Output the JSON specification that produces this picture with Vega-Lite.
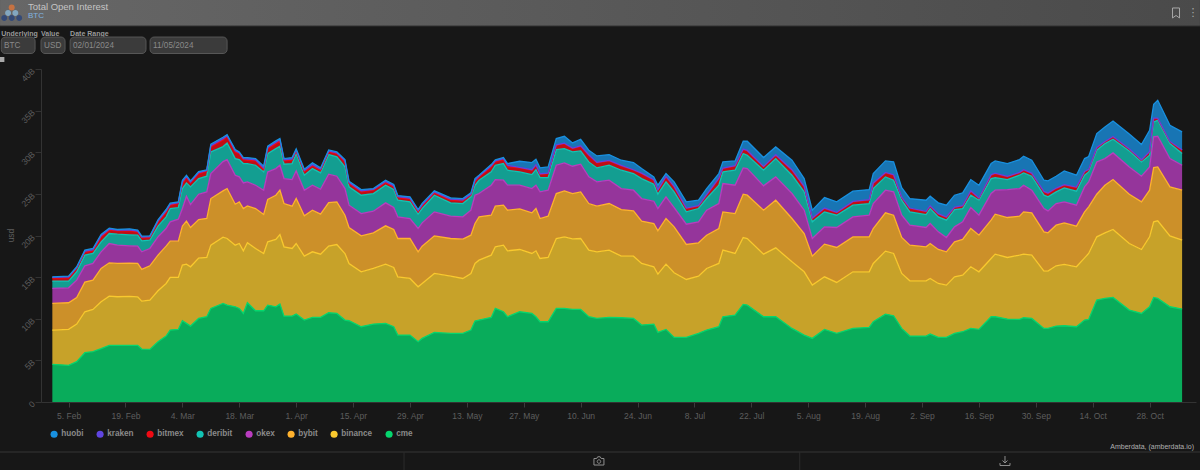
{"$schema":"https://vega.github.io/schema/vega-lite/v6.json","width":1155,"height":333,"autosize":{"type":"none"},"padding":{"left":41,"top":69,"right":4,"bottom":68},"background":"#171717","view":{"stroke":null},"datasets":{"oi":[
{"d":"2024-02-01","cme":4.52,"binance":4.12,"bybit":3.2,"okex":1.8,"deribit":0.88,"bitmex":0.36,"kraken":0.08,"huobi":0.08},
{"d":"2024-02-05","cme":4.4,"binance":4.32,"bybit":3.2,"okex":1.8,"deribit":0.8,"bitmex":0.4,"kraken":0.1,"huobi":0.1},
{"d":"2024-02-07","cme":4.84,"binance":4.52,"bybit":3.2,"okex":2.08,"deribit":1.0,"bitmex":0.4,"kraken":0.1,"huobi":0.1},
{"d":"2024-02-09","cme":5.92,"binance":4.92,"bybit":3.56,"okex":1.96,"deribit":1.28,"bitmex":0.36,"kraken":0.12,"huobi":0.12},
{"d":"2024-02-11","cme":6.04,"binance":5.08,"bybit":3.52,"okex":2.0,"deribit":1.2,"bitmex":0.32,"kraken":0.14,"huobi":0.14},
{"d":"2024-02-13","cme":6.4,"binance":5.64,"bybit":4.0,"okex":2.0,"deribit":1.2,"bitmex":0.6,"kraken":0.14,"huobi":0.14},
{"d":"2024-02-15","cme":6.8,"binance":5.92,"bybit":4.0,"okex":2.32,"deribit":1.2,"bitmex":0.4,"kraken":0.12,"huobi":0.12},
{"d":"2024-02-17","cme":6.8,"binance":5.84,"bybit":4.0,"okex":2.2,"deribit":1.32,"bitmex":0.4,"kraken":0.08,"huobi":0.08},
{"d":"2024-02-20","cme":6.8,"binance":5.88,"bybit":4.0,"okex":2.08,"deribit":1.32,"bitmex":0.48,"kraken":0.12,"huobi":0.12},
{"d":"2024-02-22","cme":6.8,"binance":5.84,"bybit":4.0,"okex":2.08,"deribit":1.32,"bitmex":0.36,"kraken":0.12,"huobi":0.12},
{"d":"2024-02-23","cme":6.36,"binance":5.76,"bybit":3.8,"okex":2.12,"deribit":1.32,"bitmex":0.36,"kraken":0.1,"huobi":0.1},
{"d":"2024-02-25","cme":6.32,"binance":5.92,"bybit":4.12,"okex":2.08,"deribit":1.0,"bitmex":0.32,"kraken":0.1,"huobi":0.1},
{"d":"2024-02-27","cme":7.24,"binance":6.12,"bybit":4.28,"okex":2.2,"deribit":1.28,"bitmex":0.52,"kraken":0.12,"huobi":0.12},
{"d":"2024-02-29","cme":7.92,"binance":6.32,"bybit":4.48,"okex":2.12,"deribit":1.4,"bitmex":0.56,"kraken":0.16,"huobi":0.16},
{"d":"2024-03-01","cme":8.64,"binance":6.32,"bybit":4.36,"okex":2.32,"deribit":1.6,"bitmex":0.4,"kraken":0.12,"huobi":0.12},
{"d":"2024-03-03","cme":8.72,"binance":6.24,"bybit":4.36,"okex":2.64,"deribit":1.4,"bitmex":0.48,"kraken":0.1,"huobi":0.1},
{"d":"2024-03-04","cme":9.76,"binance":6.68,"bybit":4.68,"okex":2.12,"deribit":2.4,"bitmex":0.6,"kraken":0.2,"huobi":0.2},
{"d":"2024-03-05","cme":9.44,"binance":7.12,"bybit":5.16,"okex":3.0,"deribit":1.6,"bitmex":0.64,"kraken":0.14,"huobi":0.14},
{"d":"2024-03-06","cme":9.12,"binance":7.12,"bybit":4.72,"okex":2.76,"deribit":2.12,"bitmex":0.48,"kraken":0.12,"huobi":0.12},
{"d":"2024-03-08","cme":10.04,"binance":7.24,"bybit":4.64,"okex":3.04,"deribit":1.88,"bitmex":0.6,"kraken":0.12,"huobi":0.12},
{"d":"2024-03-10","cme":10.24,"binance":7.12,"bybit":4.68,"okex":3.2,"deribit":1.88,"bitmex":0.6,"kraken":0.08,"huobi":0.08},
{"d":"2024-03-11","cme":11.24,"binance":7.6,"bybit":5.6,"okex":3.0,"deribit":2.6,"bitmex":0.6,"kraken":0.16,"huobi":0.16},
{"d":"2024-03-14","cme":11.84,"binance":7.96,"bybit":5.56,"okex":3.52,"deribit":1.8,"bitmex":0.8,"kraken":0.16,"huobi":0.16},
{"d":"2024-03-15","cme":11.64,"binance":8.0,"bybit":6.0,"okex":3.48,"deribit":2.0,"bitmex":0.72,"kraken":0.14,"huobi":0.14},
{"d":"2024-03-17","cme":11.44,"binance":7.4,"bybit":4.92,"okex":3.48,"deribit":2.0,"bitmex":0.8,"kraken":0.14,"huobi":0.14},
{"d":"2024-03-18","cme":11.24,"binance":7.8,"bybit":5.0,"okex":3.0,"deribit":2.08,"bitmex":0.72,"kraken":0.1,"huobi":0.1},
{"d":"2024-03-19","cme":10.64,"binance":7.52,"bybit":5.08,"okex":3.08,"deribit":2.32,"bitmex":0.48,"kraken":0.12,"huobi":0.12},
{"d":"2024-03-20","cme":11.92,"binance":7.2,"bybit":4.44,"okex":2.88,"deribit":2.2,"bitmex":0.4,"kraken":0.16,"huobi":0.16},
{"d":"2024-03-22","cme":10.96,"binance":7.48,"bybit":4.8,"okex":2.8,"deribit":2.4,"bitmex":0.52,"kraken":0.14,"huobi":0.14},
{"d":"2024-03-24","cme":10.96,"binance":6.88,"bybit":4.68,"okex":2.92,"deribit":2.2,"bitmex":0.28,"kraken":0.2,"huobi":0.2},
{"d":"2024-03-25","cme":11.64,"binance":7.6,"bybit":5.08,"okex":3.32,"deribit":2.2,"bitmex":0.6,"kraken":0.14,"huobi":0.14},
{"d":"2024-03-27","cme":11.44,"binance":8.08,"bybit":5.32,"okex":3.2,"deribit":2.4,"bitmex":0.6,"kraken":0.16,"huobi":0.16},
{"d":"2024-03-28","cme":11.76,"binance":8.36,"bybit":5.32,"okex":3.0,"deribit":2.28,"bitmex":0.64,"kraken":0.14,"huobi":0.14},
{"d":"2024-03-29","cme":10.32,"binance":8.32,"bybit":5.2,"okex":3.0,"deribit":1.72,"bitmex":0.4,"kraken":0.14,"huobi":0.14},
{"d":"2024-03-31","cme":10.32,"binance":8.12,"bybit":5.08,"okex":3.2,"deribit":1.92,"bitmex":0.4,"kraken":0.16,"huobi":0.16},
{"d":"2024-04-01","cme":10.56,"binance":8.48,"bybit":5.4,"okex":3.32,"deribit":2.08,"bitmex":0.28,"kraken":0.14,"huobi":0.14},
{"d":"2024-04-03","cme":9.84,"binance":7.68,"bybit":4.84,"okex":3.08,"deribit":1.8,"bitmex":0.4,"kraken":0.16,"huobi":0.16},
{"d":"2024-04-05","cme":10.16,"binance":7.88,"bybit":5.0,"okex":3.0,"deribit":2.0,"bitmex":0.32,"kraken":0.18,"huobi":0.18},
{"d":"2024-04-07","cme":10.16,"binance":7.6,"bybit":4.8,"okex":3.0,"deribit":1.96,"bitmex":0.32,"kraken":0.14,"huobi":0.14},
{"d":"2024-04-09","cme":10.72,"binance":8.0,"bybit":5.24,"okex":3.4,"deribit":2.36,"bitmex":0.32,"kraken":0.12,"huobi":0.12},
{"d":"2024-04-11","cme":10.64,"binance":8.28,"bybit":5.12,"okex":3.08,"deribit":2.32,"bitmex":0.4,"kraken":0.1,"huobi":0.1},
{"d":"2024-04-13","cme":9.84,"binance":8.0,"bybit":4.6,"okex":3.2,"deribit":2.6,"bitmex":0.6,"kraken":0.14,"huobi":0.14},
{"d":"2024-04-14","cme":9.76,"binance":6.88,"bybit":4.32,"okex":2.68,"deribit":2.2,"bitmex":0.4,"kraken":0.14,"huobi":0.14},
{"d":"2024-04-17","cme":9.04,"binance":6.6,"bybit":4.32,"okex":2.68,"deribit":2.2,"bitmex":0.4,"kraken":0.14,"huobi":0.14},
{"d":"2024-04-20","cme":9.36,"binance":6.68,"bybit":4.28,"okex":2.6,"deribit":2.12,"bitmex":0.4,"kraken":0.1,"huobi":0.1},
{"d":"2024-04-23","cme":9.44,"binance":7.12,"bybit":4.6,"okex":2.76,"deribit":2.12,"bitmex":0.32,"kraken":0.14,"huobi":0.14},
{"d":"2024-04-25","cme":9.04,"binance":7.12,"bybit":4.56,"okex":2.64,"deribit":2.16,"bitmex":0.32,"kraken":0.14,"huobi":0.14},
{"d":"2024-04-26","cme":8.04,"binance":7.0,"bybit":4.6,"okex":2.6,"deribit":2.0,"bitmex":0.32,"kraken":0.12,"huobi":0.12},
{"d":"2024-04-29","cme":8.04,"binance":6.8,"bybit":4.8,"okex":2.4,"deribit":2.0,"bitmex":0.32,"kraken":0.14,"huobi":0.14},
{"d":"2024-05-01","cme":7.24,"binance":6.6,"bybit":4.2,"okex":2.8,"deribit":1.72,"bitmex":0.28,"kraken":0.14,"huobi":0.14},
{"d":"2024-05-02","cme":7.64,"binance":6.6,"bybit":4.48,"okex":2.8,"deribit":1.72,"bitmex":0.28,"kraken":0.16,"huobi":0.16},
{"d":"2024-05-05","cme":8.36,"binance":7.08,"bybit":4.52,"okex":2.88,"deribit":2.0,"bitmex":0.28,"kraken":0.12,"huobi":0.12},
{"d":"2024-05-09","cme":8.24,"binance":6.88,"bybit":4.52,"okex":2.68,"deribit":1.6,"bitmex":0.32,"kraken":0.14,"huobi":0.14},
{"d":"2024-05-12","cme":8.24,"binance":6.6,"bybit":4.72,"okex":2.68,"deribit":1.6,"bitmex":0.28,"kraken":0.16,"huobi":0.16},
{"d":"2024-05-14","cme":8.64,"binance":6.8,"bybit":4.6,"okex":3.0,"deribit":1.6,"bitmex":0.2,"kraken":0.14,"huobi":0.14},
{"d":"2024-05-15","cme":9.72,"binance":6.92,"bybit":4.8,"okex":3.4,"deribit":1.2,"bitmex":0.4,"kraken":0.2,"huobi":0.2},
{"d":"2024-05-16","cme":9.84,"binance":7.2,"bybit":5.2,"okex":2.8,"deribit":1.6,"bitmex":0.4,"kraken":0.1,"huobi":0.1},
{"d":"2024-05-19","cme":10.16,"binance":7.48,"bybit":4.8,"okex":3.6,"deribit":1.6,"bitmex":0.6,"kraken":0.14,"huobi":0.14},
{"d":"2024-05-20","cme":11.24,"binance":7.4,"bybit":4.88,"okex":3.2,"deribit":1.72,"bitmex":0.4,"kraken":0.12,"huobi":0.12},
{"d":"2024-05-22","cme":10.84,"binance":8.0,"bybit":4.8,"okex":3.0,"deribit":2.0,"bitmex":0.48,"kraken":0.12,"huobi":0.12},
{"d":"2024-05-23","cme":10.24,"binance":7.92,"bybit":4.88,"okex":3.0,"deribit":1.8,"bitmex":0.4,"kraken":0.2,"huobi":0.2},
{"d":"2024-05-26","cme":10.84,"binance":7.48,"bybit":4.88,"okex":2.84,"deribit":1.6,"bitmex":0.48,"kraken":0.06,"huobi":0.74},
{"d":"2024-05-29","cme":10.64,"binance":7.2,"bybit":4.88,"okex":2.92,"deribit":1.68,"bitmex":0.52,"kraken":0.06,"huobi":0.86},
{"d":"2024-05-30","cme":10.24,"binance":7.92,"bybit":5.08,"okex":2.8,"deribit":1.88,"bitmex":0.52,"kraken":0.06,"huobi":0.66},
{"d":"2024-05-31","cme":9.64,"binance":7.6,"bybit":4.8,"okex":3.2,"deribit":1.72,"bitmex":0.4,"kraken":0.06,"huobi":0.7},
{"d":"2024-06-02","cme":9.64,"binance":7.72,"bybit":4.96,"okex":3.12,"deribit":1.52,"bitmex":0.48,"kraken":0.06,"huobi":0.74},
{"d":"2024-06-04","cme":11.24,"binance":8.4,"bybit":5.4,"okex":3.4,"deribit":1.88,"bitmex":0.52,"kraken":0.06,"huobi":0.74},
{"d":"2024-06-06","cme":11.24,"binance":8.6,"bybit":5.52,"okex":3.36,"deribit":1.72,"bitmex":0.6,"kraken":0.06,"huobi":0.82},
{"d":"2024-06-08","cme":11.12,"binance":8.48,"bybit":5.44,"okex":3.28,"deribit":1.72,"bitmex":0.4,"kraken":0.06,"huobi":0.62},
{"d":"2024-06-10","cme":11.12,"binance":8.52,"bybit":5.6,"okex":3.32,"deribit":1.6,"bitmex":0.56,"kraken":0.06,"huobi":0.78},
{"d":"2024-06-12","cme":10.24,"binance":8.0,"bybit":5.6,"okex":3.2,"deribit":1.8,"bitmex":0.8,"kraken":0.06,"huobi":0.54},
{"d":"2024-06-14","cme":10.04,"binance":8.0,"bybit":5.48,"okex":2.92,"deribit":1.68,"bitmex":0.6,"kraken":0.06,"huobi":0.78},
{"d":"2024-06-17","cme":10.16,"binance":8.08,"bybit":5.6,"okex":2.8,"deribit":1.8,"bitmex":0.52,"kraken":0.06,"huobi":0.7},
{"d":"2024-06-20","cme":10.12,"binance":7.4,"bybit":5.6,"okex":2.52,"deribit":2.2,"bitmex":0.52,"kraken":0.06,"huobi":0.62},
{"d":"2024-06-23","cme":10.04,"binance":7.48,"bybit":5.44,"okex":2.48,"deribit":2.0,"bitmex":0.4,"kraken":0.06,"huobi":0.86},
{"d":"2024-06-25","cme":9.24,"binance":7.4,"bybit":5.08,"okex":2.72,"deribit":2.4,"bitmex":0.6,"kraken":0.06,"huobi":0.54},
{"d":"2024-06-28","cme":9.36,"binance":6.88,"bybit":5.2,"okex":2.68,"deribit":2.04,"bitmex":0.48,"kraken":0.06,"huobi":0.34},
{"d":"2024-06-29","cme":8.36,"binance":7.0,"bybit":5.2,"okex":2.68,"deribit":1.72,"bitmex":0.48,"kraken":0.06,"huobi":0.54},
{"d":"2024-07-01","cme":8.72,"binance":7.84,"bybit":5.48,"okex":2.6,"deribit":1.8,"bitmex":0.6,"kraken":0.06,"huobi":0.34},
{"d":"2024-07-03","cme":7.76,"binance":7.76,"bybit":5.52,"okex":2.32,"deribit":1.88,"bitmex":0.6,"kraken":0.06,"huobi":0.54},
{"d":"2024-07-06","cme":7.76,"binance":6.96,"bybit":4.2,"okex":2.44,"deribit":1.48,"bitmex":0.4,"kraken":0.06,"huobi":0.74},
{"d":"2024-07-09","cme":8.24,"binance":6.88,"bybit":4.0,"okex":2.52,"deribit":1.6,"bitmex":0.28,"kraken":0.06,"huobi":0.66},
{"d":"2024-07-11","cme":8.64,"binance":7.4,"bybit":4.0,"okex":3.0,"deribit":1.4,"bitmex":0.4,"kraken":0.06,"huobi":0.74},
{"d":"2024-07-14","cme":9.04,"binance":7.6,"bybit":4.2,"okex":3.0,"deribit":2.2,"bitmex":0.8,"kraken":0.06,"huobi":0.54},
{"d":"2024-07-15","cme":10.24,"binance":8.0,"bybit":4.6,"okex":3.4,"deribit":1.4,"bitmex":0.4,"kraken":0.06,"huobi":0.74},
{"d":"2024-07-18","cme":10.44,"binance":7.4,"bybit":4.8,"okex":3.4,"deribit":1.8,"bitmex":0.48,"kraken":0.06,"huobi":0.58},
{"d":"2024-07-20","cme":11.72,"binance":8.04,"bybit":5.2,"okex":3.16,"deribit":1.72,"bitmex":0.48,"kraken":0.06,"huobi":0.94},
{"d":"2024-07-21","cme":11.64,"binance":8.0,"bybit":5.2,"okex":3.2,"deribit":1.6,"bitmex":0.52,"kraken":0.06,"huobi":1.1},
{"d":"2024-07-25","cme":10.24,"binance":7.52,"bybit":5.28,"okex":2.92,"deribit":1.88,"bitmex":0.4,"kraken":0.06,"huobi":1.06},
{"d":"2024-07-28","cme":10.24,"binance":8.28,"bybit":5.72,"okex":2.8,"deribit":2.2,"bitmex":0.4,"kraken":0.06,"huobi":0.94},
{"d":"2024-08-01","cme":8.84,"binance":8.0,"bybit":5.2,"okex":3.0,"deribit":2.2,"bitmex":0.6,"kraken":0.06,"huobi":1.14},
{"d":"2024-08-04","cme":8.04,"binance":7.6,"bybit":4.6,"okex":2.8,"deribit":2.2,"bitmex":0.6,"kraken":0.06,"huobi":0.94},
{"d":"2024-08-06","cme":7.64,"binance":6.4,"bybit":3.48,"okex":2.12,"deribit":2.0,"bitmex":0.4,"kraken":0.06,"huobi":0.94},
{"d":"2024-08-09","cme":8.72,"binance":6.32,"bybit":3.92,"okex":2.08,"deribit":1.8,"bitmex":0.4,"kraken":0.06,"huobi":1.26},
{"d":"2024-08-12","cme":8.24,"binance":6.12,"bybit":4.2,"okex":2.4,"deribit":1.48,"bitmex":0.28,"kraken":0.06,"huobi":1.26},
{"d":"2024-08-16","cme":8.84,"binance":6.8,"bybit":4.2,"okex":2.4,"deribit":1.4,"bitmex":0.4,"kraken":0.06,"huobi":1.22},
{"d":"2024-08-20","cme":8.96,"binance":6.68,"bybit":4.2,"okex":2.6,"deribit":1.4,"bitmex":0.4,"kraken":0.06,"huobi":1.22},
{"d":"2024-08-21","cme":9.64,"binance":7.0,"bybit":4.2,"okex":3.0,"deribit":1.8,"bitmex":0.6,"kraken":0.06,"huobi":1.14},
{"d":"2024-08-24","cme":10.56,"binance":7.56,"bybit":4.6,"okex":2.72,"deribit":1.6,"bitmex":0.48,"kraken":0.06,"huobi":1.38},
{"d":"2024-08-26","cme":10.36,"binance":7.48,"bybit":4.6,"okex":2.8,"deribit":1.4,"bitmex":0.6,"kraken":0.06,"huobi":1.54},
{"d":"2024-08-28","cme":8.84,"binance":6.6,"bybit":4.32,"okex":2.68,"deribit":1.8,"bitmex":0.3,"kraken":0.06,"huobi":1.14},
{"d":"2024-08-30","cme":7.92,"binance":6.64,"bybit":4.28,"okex":2.4,"deribit":1.6,"bitmex":0.4,"kraken":0.06,"huobi":1.14},
{"d":"2024-09-03","cme":7.92,"binance":6.64,"bybit":4.08,"okex":2.32,"deribit":1.56,"bitmex":0.32,"kraken":0.06,"huobi":1.34},
{"d":"2024-09-04","cme":8.16,"binance":6.68,"bybit":4.2,"okex":2.4,"deribit":1.8,"bitmex":0.28,"kraken":0.06,"huobi":1.14},
{"d":"2024-09-06","cme":7.76,"binance":6.48,"bybit":4.08,"okex":2.12,"deribit":1.8,"bitmex":0.32,"kraken":0.06,"huobi":1.3},
{"d":"2024-09-08","cme":7.76,"binance":6.28,"bybit":4.0,"okex":1.72,"deribit":2.08,"bitmex":0.32,"kraken":0.06,"huobi":1.42},
{"d":"2024-09-10","cme":8.24,"binance":6.8,"bybit":4.2,"okex":1.8,"deribit":2.08,"bitmex":0.24,"kraken":0.06,"huobi":1.42},
{"d":"2024-09-12","cme":8.44,"binance":6.8,"bybit":4.28,"okex":2.12,"deribit":1.6,"bitmex":0.28,"kraken":0.06,"huobi":1.54},
{"d":"2024-09-14","cme":8.84,"binance":7.4,"bybit":4.6,"okex":2.52,"deribit":1.48,"bitmex":0.48,"kraken":0.06,"huobi":1.34},
{"d":"2024-09-16","cme":8.72,"binance":6.92,"bybit":4.4,"okex":2.4,"deribit":1.8,"bitmex":0.2,"kraken":0.06,"huobi":1.54},
{"d":"2024-09-19","cme":10.24,"binance":7.0,"bybit":4.6,"okex":3.2,"deribit":1.8,"bitmex":0.4,"kraken":0.06,"huobi":1.34},
{"d":"2024-09-20","cme":10.24,"binance":7.52,"bybit":4.8,"okex":2.88,"deribit":1.52,"bitmex":0.48,"kraken":0.06,"huobi":1.46},
{"d":"2024-09-23","cme":9.96,"binance":7.4,"bybit":4.8,"okex":3.36,"deribit":1.2,"bitmex":0.32,"kraken":0.06,"huobi":1.54},
{"d":"2024-09-26","cme":9.92,"binance":7.72,"bybit":4.68,"okex":3.32,"deribit":1.6,"bitmex":0.28,"kraken":0.06,"huobi":1.54},
{"d":"2024-09-27","cme":10.12,"binance":7.64,"bybit":5.08,"okex":3.2,"deribit":1.48,"bitmex":0.32,"kraken":0.06,"huobi":1.62},
{"d":"2024-09-29","cme":10.04,"binance":7.6,"bybit":5.08,"okex":2.72,"deribit":1.68,"bitmex":0.32,"kraken":0.06,"huobi":1.54},
{"d":"2024-10-02","cme":8.84,"binance":6.88,"bybit":4.72,"okex":2.8,"deribit":1.6,"bitmex":0.4,"kraken":0.06,"huobi":1.34},
{"d":"2024-10-03","cme":8.84,"binance":6.88,"bybit":4.6,"okex":2.64,"deribit":1.68,"bitmex":0.4,"kraken":0.06,"huobi":1.46},
{"d":"2024-10-05","cme":9.12,"binance":7.24,"bybit":4.88,"okex":2.6,"deribit":1.4,"bitmex":0.4,"kraken":0.06,"huobi":1.42},
{"d":"2024-10-07","cme":9.16,"binance":7.36,"bybit":5.0,"okex":2.52,"deribit":1.68,"bitmex":0.32,"kraken":0.06,"huobi":1.66},
{"d":"2024-10-10","cme":9.04,"binance":7.2,"bybit":4.88,"okex":2.52,"deribit":1.68,"bitmex":0.44,"kraken":0.06,"huobi":1.42},
{"d":"2024-10-12","cme":9.84,"binance":7.48,"bybit":5.52,"okex":3.0,"deribit":1.4,"bitmex":0.4,"kraken":0.06,"huobi":1.54},
{"d":"2024-10-13","cme":9.92,"binance":7.92,"bybit":5.6,"okex":3.0,"deribit":1.2,"bitmex":0.24,"kraken":0.06,"huobi":1.54},
{"d":"2024-10-15","cme":12.24,"binance":7.6,"bybit":5.12,"okex":3.88,"deribit":1.4,"bitmex":0.28,"kraken":0.06,"huobi":1.66},
{"d":"2024-10-17","cme":12.44,"binance":7.88,"bybit":5.72,"okex":3.2,"deribit":1.8,"bitmex":0.2,"kraken":0.06,"huobi":1.74},
{"d":"2024-10-19","cme":12.56,"binance":8.16,"bybit":6.0,"okex":3.2,"deribit":1.64,"bitmex":0.28,"kraken":0.06,"huobi":1.86},
{"d":"2024-10-23","cme":11.04,"binance":8.0,"bybit":5.92,"okex":3.28,"deribit":1.92,"bitmex":0.2,"kraken":0.06,"huobi":1.78},
{"d":"2024-10-26","cme":10.64,"binance":7.68,"bybit":5.72,"okex":3.08,"deribit":1.72,"bitmex":0.2,"kraken":0.06,"huobi":1.82},
{"d":"2024-10-28","cme":11.44,"binance":8.4,"bybit":5.6,"okex":2.8,"deribit":1.4,"bitmex":0.4,"kraken":0.06,"huobi":2.54},
{"d":"2024-10-29","cme":12.56,"binance":9.08,"bybit":6.52,"okex":3.68,"deribit":1.8,"bitmex":0.4,"kraken":0.06,"huobi":1.66},
{"d":"2024-10-30","cme":12.44,"binance":9.32,"bybit":6.48,"okex":3.68,"deribit":1.92,"bitmex":0.2,"kraken":0.06,"huobi":2.14},
{"d":"2024-11-02","cme":11.44,"binance":8.52,"bybit":5.88,"okex":3.4,"deribit":1.8,"bitmex":0.2,"kraken":0.06,"huobi":1.94},
{"d":"2024-11-05","cme":11.16,"binance":8.28,"bybit":6.0,"okex":3.0,"deribit":1.4,"bitmex":0.4,"kraken":0.06,"huobi":2.14}
],"one":[{}]},
"layer":[
{"data":{"name":"oi"},
 "transform":[{"fold":["cme","binance","bybit","okex","deribit","bitmex","kraken","huobi"],"as":["exchange","oi"]},{"calculate":"indexof(['huobi','kraken','bitmex','deribit','okex','bybit','binance','cme'],datum.exchange)","as":"rank"}],
 "mark":{"type":"area","interpolate":"linear","fillOpacity":0.78,"line":{"strokeWidth":1.3}},
 "encoding":{
  "x":{"field":"d","type":"temporal","scale":{"type":"utc","domain":[{"year":2024,"month":1,"date":29,"hours":5,"utc":true},{"year":2024,"month":11,"date":8,"hours":10,"utc":true}]},"axis":{"title":null,"values":["2024-02-05","2024-02-19","2024-03-04","2024-03-18","2024-04-01","2024-04-15","2024-04-29","2024-05-13","2024-05-27","2024-06-10","2024-06-24","2024-07-08","2024-07-22","2024-08-05","2024-08-19","2024-09-02","2024-09-16","2024-09-30","2024-10-14","2024-10-28"],"labelExpr":"utcFormat(datum.value,'%-d. %b')","labelColor":"#5e5e5e","labelFont":"Liberation Sans","labelFontSize":8.5,"labelPadding":4,"labelOverlap":false,"domainColor":"#333333","tickColor":"#3c3c3c","tickSize":5,"grid":false}},
  "y":{"field":"oi","type":"quantitative","stack":"zero","scale":{"domain":[0,40],"nice":false},"axis":{"title":"usd","titleColor":"#5e5e5e","titleFont":"Liberation Sans","titleFontSize":8.5,"titleFontWeight":"normal","titleX":-26,"titleY":166,"values":[0,5,10,15,20,25,30,35,40],"labelExpr":"datum.value === 0 ? '0' : datum.value + 'B'","labelAngle":-45,"labelAlign":"right","labelBaseline":"middle","labelColor":"#5e5e5e","labelFont":"Liberation Sans","labelFontSize":8.5,"labelPadding":2,"domainColor":"#333333","tickColor":"#333333","tickSize":6,"grid":false}},
  "color":{"field":"exchange","type":"nominal","scale":{"domain":["huobi","kraken","bitmex","deribit","okex","bybit","binance","cme"],"range":["#1890e0","#5f45e0","#f00a14","#12c4b4","#b93dc0","#ffb22e","#f9c92e","#05d66e"]},"legend":{"orient":"none","legendX":9,"legendY":361,"direction":"horizontal","columns":8,"title":null,"symbolType":"circle","symbolSize":50,"symbolOpacity":1,"symbolStrokeWidth":0,"labelColor":"#8a8a8a","labelFont":"Liberation Sans","labelFontSize":8.2,"labelFontWeight":"bold","columnPadding":12,"labelOffset":3}},
  "order":{"field":"rank","type":"quantitative","sort":"descending"}
 }},
{"data":{"name":"one"},"mark":{"type":"rect","fill":{"x1":0,"y1":0,"x2":1,"y2":0,"gradient":"linear","stops":[{"offset":0,"color":"#676767"},{"offset":1,"color":"#4a4a4a"}]},"stroke":"#2f2f2f","strokeWidth":1},"encoding":{"x":{"datum":{"year":2024,"month":1,"date":19,"utc":true},"type":"temporal"},"x2":{"datum":{"year":2024,"month":11,"date":9,"hours":12,"utc":true}},"y":{"datum":48.6,"type":"quantitative"},"y2":{"datum":45.16}}},
{"data":{"name":"one"},"mark":{"type":"point","filled":true,"fill":"#1f3f7f","stroke":null,"size":484,"shape":"M-0.95,0.42 a0.27,0.27 0 1,0 0.54,0 a0.27,0.27 0 1,0 -0.54,0 M-0.27,0.42 a0.27,0.27 0 1,0 0.54,0 a0.27,0.27 0 1,0 -0.54,0 M0.41,0.42 a0.27,0.27 0 1,0 0.54,0 a0.27,0.27 0 1,0 -0.54,0"},"encoding":{"x":{"datum":{"year":2024,"month":1,"date":22,"utc":true},"type":"temporal"},"y":{"datum":46.67,"type":"quantitative"}}},
{"data":{"name":"one"},"mark":{"type":"point","filled":true,"fill":"#8fc3e8","stroke":null,"size":484,"shape":"M-0.6,-0.05 a0.27,0.27 0 1,0 0.54,0 a0.27,0.27 0 1,0 -0.54,0 M0.06,-0.05 a0.27,0.27 0 1,0 0.54,0 a0.27,0.27 0 1,0 -0.54,0"},"encoding":{"x":{"datum":{"year":2024,"month":1,"date":22,"utc":true},"type":"temporal"},"y":{"datum":46.67,"type":"quantitative"}}},
{"data":{"name":"one"},"mark":{"type":"point","filled":true,"fill":"#ee7733","stroke":null,"size":36},"encoding":{"x":{"datum":{"year":2024,"month":1,"date":22,"utc":true},"type":"temporal"},"y":{"datum":47.4,"type":"quantitative"}}},
{"data":{"name":"one"},"mark":{"type":"text","text":"Total Open Interest","align":"left","baseline":"middle","font":"Liberation Sans","fontSize":9.5,"color":"#c4c4c4"},"encoding":{"x":{"datum":{"year":2024,"month":1,"date":26,"utc":true},"type":"temporal"},"y":{"datum":47.45,"type":"quantitative"}}},
{"data":{"name":"one"},"mark":{"type":"text","text":"BTC","align":"left","baseline":"middle","font":"Liberation Sans","fontSize":8,"color":"#7fb3e0"},"encoding":{"x":{"datum":{"year":2024,"month":1,"date":26,"utc":true},"type":"temporal"},"y":{"datum":46.4,"type":"quantitative"}}},
{"data":{"name":"one"},"mark":{"type":"point","shape":"M-0.7,-1 L0.7,-1 L0.7,1 L0,0.5 L-0.7,1 Z","stroke":"#a8a8a8","fill":"transparent","strokeWidth":1,"size":100,"opacity":1},"encoding":{"x":{"datum":{"year":2024,"month":11,"date":3,"hours":12,"utc":true},"type":"temporal"},"y":{"datum":46.73,"type":"quantitative"}}},
{"data":{"name":"one"},"mark":{"type":"text","text":"⋮","align":"center","baseline":"middle","font":"DejaVu Sans","fontSize":11,"color":"#a8a8a8"},"encoding":{"x":{"datum":{"year":2024,"month":11,"date":7,"hours":17,"utc":true},"type":"temporal"},"y":{"datum":46.73,"type":"quantitative"}}},
{"data":{"name":"one"},"mark":{"type":"text","text":"Underlying","align":"left","baseline":"middle","font":"Liberation Sans","fontSize":7,"fontWeight":"bold","color":"#9a9a9a"},"encoding":{"x":{"datum":{"year":2024,"month":1,"date":19,"hours":10,"utc":true},"type":"temporal"},"y":{"datum":44.25,"type":"quantitative"}}},
{"data":{"name":"one"},"mark":{"type":"text","text":"Value","align":"left","baseline":"middle","font":"Liberation Sans","fontSize":7,"fontWeight":"bold","color":"#9a9a9a"},"encoding":{"x":{"datum":{"year":2024,"month":1,"date":29,"hours":5,"utc":true},"type":"temporal"},"y":{"datum":44.25,"type":"quantitative"}}},
{"data":{"name":"one"},"mark":{"type":"text","text":"Date Range","align":"left","baseline":"middle","font":"Liberation Sans","fontSize":7,"fontWeight":"bold","color":"#9a9a9a"},"encoding":{"x":{"datum":{"year":2024,"month":2,"date":5,"hours":9,"utc":true},"type":"temporal"},"y":{"datum":44.25,"type":"quantitative"}}},
{"data":{"name":"one"},"mark":{"type":"rect","fill":"#3b3b3b","stroke":"#575757","cornerRadius":4},"encoding":{"x":{"datum":{"year":2024,"month":1,"date":19,"hours":10,"utc":true},"type":"temporal"},"x2":{"datum":{"year":2024,"month":1,"date":27,"hours":18,"utc":true}},"y":{"datum":43.84,"type":"quantitative"},"y2":{"datum":41.86}}},
{"data":{"name":"one"},"mark":{"type":"rect","fill":"#3b3b3b","stroke":"#575757","cornerRadius":4},"encoding":{"x":{"datum":{"year":2024,"month":1,"date":29,"hours":5,"utc":true},"type":"temporal"},"x2":{"datum":{"year":2024,"month":2,"date":4,"hours":3,"utc":true}},"y":{"datum":43.84,"type":"quantitative"},"y2":{"datum":41.86}}},
{"data":{"name":"one"},"mark":{"type":"rect","fill":"#3b3b3b","stroke":"#575757","cornerRadius":4},"encoding":{"x":{"datum":{"year":2024,"month":2,"date":5,"hours":9,"utc":true},"type":"temporal"},"x2":{"datum":{"year":2024,"month":2,"date":24,"hours":1,"utc":true}},"y":{"datum":43.84,"type":"quantitative"},"y2":{"datum":41.86}}},
{"data":{"name":"one"},"mark":{"type":"rect","fill":"#3b3b3b","stroke":"#575757","cornerRadius":4},"encoding":{"x":{"datum":{"year":2024,"month":2,"date":25,"hours":1,"utc":true},"type":"temporal"},"x2":{"datum":{"year":2024,"month":3,"date":15,"utc":true}},"y":{"datum":43.84,"type":"quantitative"},"y2":{"datum":41.86}}},
{"data":{"name":"one"},"mark":{"type":"text","text":"BTC","align":"left","baseline":"middle","font":"Liberation Sans","fontSize":8.2,"color":"#8a8a8a"},"encoding":{"x":{"datum":{"year":2024,"month":1,"date":20,"hours":2,"utc":true},"type":"temporal"},"y":{"datum":42.82,"type":"quantitative"}}},
{"data":{"name":"one"},"mark":{"type":"text","text":"USD","align":"left","baseline":"middle","font":"Liberation Sans","fontSize":8.2,"color":"#8a8a8a"},"encoding":{"x":{"datum":{"year":2024,"month":1,"date":29,"hours":23,"utc":true},"type":"temporal"},"y":{"datum":42.82,"type":"quantitative"}}},
{"data":{"name":"one"},"mark":{"type":"text","text":"02/01/2024","align":"left","baseline":"middle","font":"Liberation Sans","fontSize":8.2,"color":"#8a8a8a"},"encoding":{"x":{"datum":{"year":2024,"month":2,"date":6,"hours":2,"utc":true},"type":"temporal"},"y":{"datum":42.82,"type":"quantitative"}}},
{"data":{"name":"one"},"mark":{"type":"text","text":"11/05/2024","align":"left","baseline":"middle","font":"Liberation Sans","fontSize":8.2,"color":"#8a8a8a"},"encoding":{"x":{"datum":{"year":2024,"month":2,"date":25,"hours":19,"utc":true},"type":"temporal"},"y":{"datum":42.82,"type":"quantitative"}}},
{"data":{"name":"one"},"mark":{"type":"point","shape":"square","filled":true,"fill":"#e8e8e8","stroke":null,"size":25},"encoding":{"x":{"datum":{"year":2024,"month":1,"date":19,"hours":14,"utc":true},"type":"temporal"},"y":{"datum":41.14,"type":"quantitative"}}},
{"data":{"name":"one"},"mark":{"type":"text","text":"Amberdata, (amberdata.io)","align":"right","baseline":"middle","font":"Liberation Sans","fontSize":7,"color":"#b0b0b0"},"encoding":{"x":{"datum":{"year":2024,"month":11,"date":7,"hours":22,"utc":true},"type":"temporal"},"y":{"datum":-5.4,"type":"quantitative"}}},
{"data":{"name":"one"},"mark":{"type":"rule","color":"#2c2c2c","strokeWidth":1.5},"encoding":{"x":{"datum":{"year":2024,"month":1,"date":19,"utc":true},"type":"temporal"},"x2":{"datum":{"year":2024,"month":11,"date":9,"hours":12,"utc":true}},"y":{"datum":-6.0,"type":"quantitative"}}},
{"data":{"name":"one"},"mark":{"type":"rule","color":"#2c2c2c","strokeWidth":1},"encoding":{"x":{"datum":{"year":2024,"month":4,"date":27,"hours":13,"utc":true},"type":"temporal"},"y":{"datum":-6.0,"type":"quantitative"},"y2":{"datum":-8.3}}},
{"data":{"name":"one"},"mark":{"type":"rule","color":"#2c2c2c","strokeWidth":1},"encoding":{"x":{"datum":{"year":2024,"month":8,"date":2,"hours":22,"utc":true},"type":"temporal"},"y":{"datum":-6.0,"type":"quantitative"},"y2":{"datum":-8.3}}},
{"data":{"name":"one"},"mark":{"type":"point","shape":"M-1,-0.5 L-0.45,-0.5 L-0.25,-0.85 L0.25,-0.85 L0.45,-0.5 L1,-0.5 L1,0.8 L-1,0.8 Z M-0.35,0.1 a0.35,0.35 0 1,0 0.7,0 a0.35,0.35 0 1,0 -0.7,0","stroke":"#8f8f8f","fill":"transparent","strokeWidth":1,"size":100,"opacity":1},"encoding":{"x":{"datum":{"year":2024,"month":6,"date":14,"hours":12,"utc":true},"type":"temporal"},"y":{"datum":-7.09,"type":"quantitative"}}},
{"data":{"name":"one"},"mark":{"type":"point","shape":"M0,-1 L0,0.4 M-0.5,-0.1 L0,0.4 L0.5,-0.1 M-1,0.4 L-1,0.9 L1,0.9 L1,0.4","stroke":"#8f8f8f","fill":"transparent","strokeWidth":1,"size":100,"opacity":1},"encoding":{"x":{"datum":{"year":2024,"month":9,"date":22,"hours":10,"utc":true},"type":"temporal"},"y":{"datum":-7.09,"type":"quantitative"}}}
]}
